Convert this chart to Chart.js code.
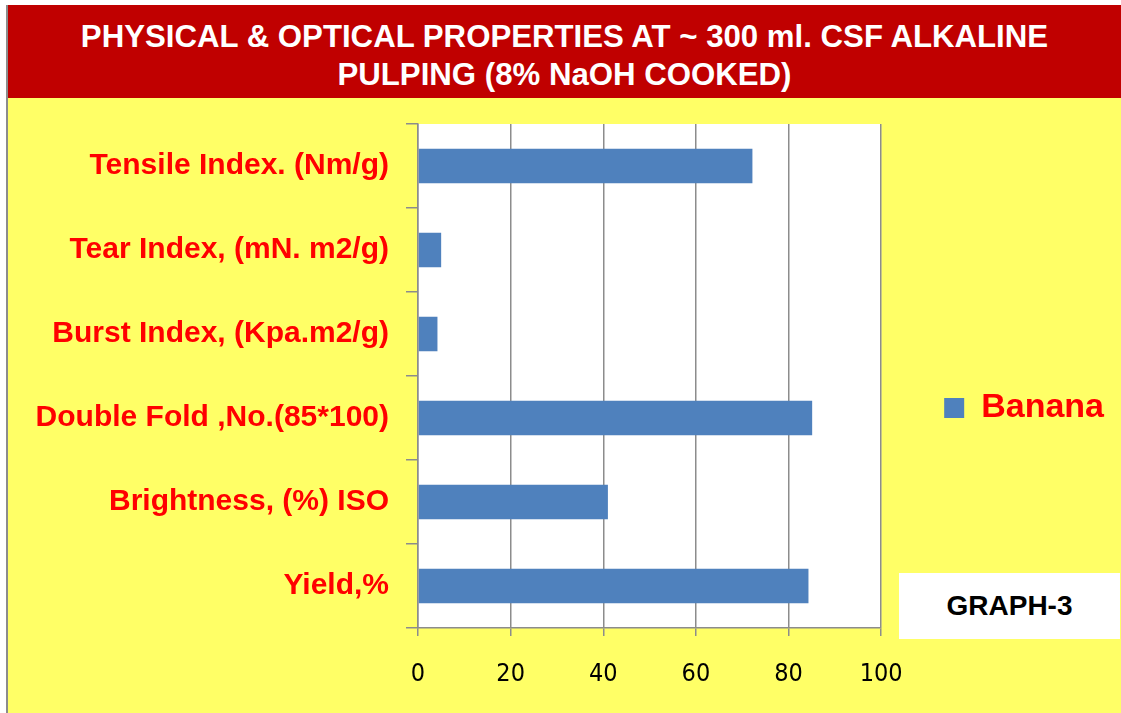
<!DOCTYPE html>
<html>
<head>
<meta charset="utf-8">
<script src="https://cdn.jsdelivr.net/npm/chart.js@4/dist/chart.umd.min.js"></script>
<style>
    html, body { margin: 0; padding: 0; background: #fff; }
    body { width: 1121px; height: 713px; position: relative; overflow: hidden; font-family: 'Liberation Sans', Arial, sans-serif; }
    #frame { position: absolute; left: 6px; top: 5px; width: 1115px; height: 708px; background: #FFFF66; border-left: 2px solid #8c8c8c; box-sizing: border-box; }
    #banner { position: absolute; left: 0; top: 0; right: 0; height: 93px; background: #C00000; color: #fff; font-weight: bold; font-size: 31.2px; text-align: center; }
    #banner div { position: absolute; left: 0; right: 0; height: 38px; line-height: 38px; }
    #wrap { position: absolute; left: 0; top: 93px; width: 1114px; height: 615px; }
    #graphBox { position: absolute; left: 891px; top: 568px; width: 221px; height: 66px; background: #fff; font-weight: bold; font-size: 28px; line-height: 66px; text-align: center; color: #000; }
</style>
</head>
<body>
<div id="frame">
    <div id="banner">
        <div style="top: 13px;">PHYSICAL &amp; OPTICAL PROPERTIES AT ~ 300 ml. CSF ALKALINE</div>
        <div style="top: 51px;">PULPING (8% NaOH COOKED)</div>
    </div>
    <div id="wrap"><canvas id="chart" width="1114" height="615"></canvas></div>
    <div id="graphBox">GRAPH-3</div>
</div>
<script>
// data
const properties = [
    'Tensile Index. (Nm/g)',
    'Tear Index, (mN. m2/g)',
    'Burst Index, (Kpa.m2/g)',
    'Double Fold ,No.(85*100)',
    'Brightness, (%) ISO',
    'Yield,%'
];
const bananaValues = [72.2, 5, 4.2, 85.1, 41, 84.3];
const xTicks = [0, 20, 40, 60, 80, 100];

const GRID = '#8c8c8c';

// white plot area on the yellow page
const plotBackground = {
    id: 'plotBackground',
    beforeDraw(chart) {
        const { ctx, chartArea: a } = chart;
        ctx.save();
        ctx.fillStyle = '#ffffff';
        ctx.fillRect(a.left, a.top, a.right - a.left, a.bottom - a.top);
        ctx.restore();
    }
};

const ctx = document.getElementById('chart').getContext('2d');
new Chart(ctx, {
    type: 'bar',
    data: {
        labels: properties,
        datasets: [{
            label: 'Banana',
            data: bananaValues,
            backgroundColor: '#4F81BD',
            borderWidth: 0,
            categoryPercentage: 0.5,
            barPercentage: 0.82
        }]
    },
    options: {
        indexAxis: 'y',
        responsive: false,
        animation: false,
        devicePixelRatio: 1,
        layout: { padding: { top: 26, right: 8, left: 0, bottom: 0 } },
        scales: {
            x: {
                min: 0,
                max: 100,
                afterBuildTicks: (scale) => { scale.ticks = xTicks.map(v => ({ value: v })); },
                afterFit: (scale) => { scale.height = 85; },
                grid: { color: GRID, lineWidth: 1.5, tickLength: 8 },
                border: { color: GRID, width: 1.5 },
                ticks: {
                    color: '#000',
                    padding: 23,
                    font: { family: "'DejaVu Sans Condensed', 'Liberation Sans Narrow', 'Liberation Sans'", size: 25 }
                }
            },
            y: {
                afterFit: (scale) => {
                    scale.width = 410;
                    scale.paddingTop = 0;
                    scale.paddingBottom = 0;
                },
                grid: { display: true, drawOnChartArea: false, color: GRID, lineWidth: 1.5, tickLength: 12 },
                border: { color: GRID, width: 1.5 },
                ticks: {
                    color: '#FF0000',
                    padding: 17,
                    font: { family: "'Liberation Sans', Arial", size: 30, weight: 'bold' }
                }
            }
        },
        plugins: {
            legend: {
                position: 'right',
                align: 'start',
                title: { display: true, text: ' ', font: { size: 10 }, padding: { top: 192, bottom: 0 } },
                labels: {
                    boxWidth: 20,
                    boxHeight: 20,
                    padding: 63,
                    color: '#FF0000',
                    font: { family: "'Liberation Sans', Arial", size: 34, weight: 'bold' }
                }
            },
            tooltip: { enabled: false }
        }
    },
    plugins: [plotBackground]
});
</script>
</body>
</html>
